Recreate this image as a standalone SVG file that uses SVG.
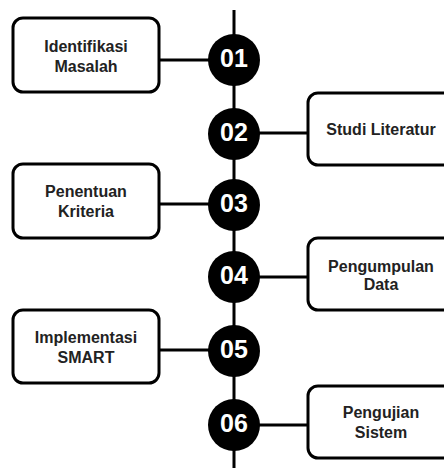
<svg xmlns="http://www.w3.org/2000/svg" width="444" height="468" viewBox="0 0 444 468">
<style>
.box{fill:#fff;stroke:#000;stroke-width:3}
.lbl{font-family:"Liberation Sans",Arial,sans-serif;font-weight:bold;font-size:16px;fill:#222;text-anchor:middle}
.dot{fill:#000}
.num{font-family:"Liberation Sans",Arial,sans-serif;font-weight:bold;font-size:25px;fill:#fff;text-anchor:middle}
.ln{stroke:#000;stroke-width:3;fill:none}
</style>
<rect width="444" height="468" fill="#fff"/>
<g id="connectors">
<line class="ln" x1="234" y1="10" x2="234" y2="468"/>
<line class="ln" x1="159" y1="60" x2="234" y2="60"/>
<line class="ln" x1="234" y1="133" x2="308" y2="133"/>
<line class="ln" x1="159" y1="204" x2="234" y2="204"/>
<line class="ln" x1="234" y1="277" x2="308" y2="277"/>
<line class="ln" x1="159" y1="350" x2="234" y2="350"/>
<line class="ln" x1="234" y1="425" x2="308" y2="425"/>
</g>
<g id="box1"><rect class="box" x="13" y="18" width="146" height="74" rx="10"/><text class="lbl" x="86" y="52">Identifikasi</text><text class="lbl" x="86" y="72">Masalah</text></g>
<g id="box2"><rect class="box" x="308" y="93" width="146" height="72" rx="10"/><text class="lbl" x="381" y="135">Studi Literatur</text></g>
<g id="box3"><rect class="box" x="13" y="164" width="146" height="74" rx="10"/><text class="lbl" x="86" y="197">Penentuan</text><text class="lbl" x="86" y="217">Kriteria</text></g>
<g id="box4"><rect class="box" x="308" y="238" width="146" height="72" rx="10"/><text class="lbl" x="381" y="272">Pengumpulan</text><text class="lbl" x="381" y="290">Data</text></g>
<g id="box5"><rect class="box" x="13" y="310" width="146" height="73" rx="10"/><text class="lbl" x="86" y="343">Implementasi</text><text class="lbl" x="86" y="363">SMART</text></g>
<g id="box6"><rect class="box" x="308" y="386" width="146" height="72" rx="10"/><text class="lbl" x="381" y="418">Pengujian</text><text class="lbl" x="381" y="438">Sistem</text></g>
<g id="step01"><circle class="dot" cx="234" cy="60" r="26"/><text class="num" x="234" y="67">01</text></g>
<g id="step02"><circle class="dot" cx="234" cy="134" r="26"/><text class="num" x="234" y="141">02</text></g>
<g id="step03"><circle class="dot" cx="234" cy="205" r="26"/><text class="num" x="234" y="212">03</text></g>
<g id="step04"><circle class="dot" cx="234" cy="277" r="26"/><text class="num" x="234" y="284">04</text></g>
<g id="step05"><circle class="dot" cx="234" cy="351" r="26"/><text class="num" x="234" y="358">05</text></g>
<g id="step06"><circle class="dot" cx="234" cy="425" r="26"/><text class="num" x="234" y="432">06</text></g>
</svg>
